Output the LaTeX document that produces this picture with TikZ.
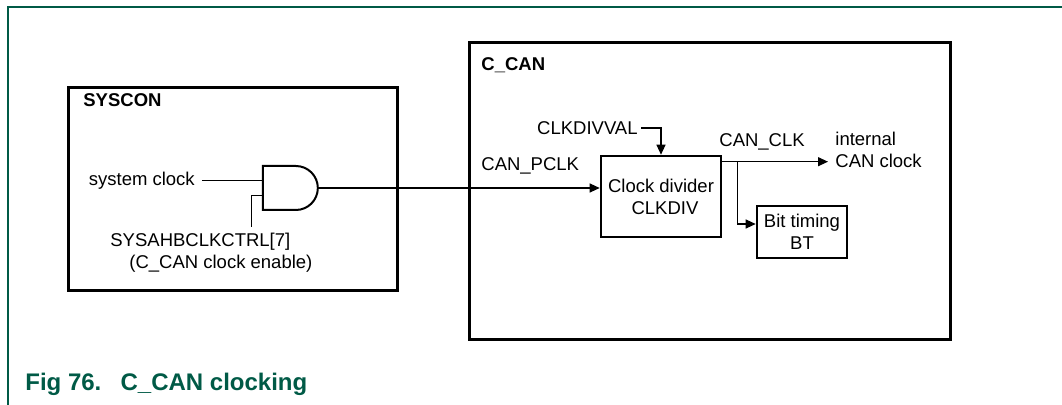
\documentclass[tikz,border=0pt]{standalone}
\usepackage{fontspec}
\setmainfont{Liberation Sans}
\usetikzlibrary{arrows.meta, positioning, shapes.gates.logic.US}
\definecolor{nxpgreen}{HTML}{005A46}
\tikzstyle{arr}=[-{Triangle[length=5pt,width=4.5pt]},line width=0.6pt]
\tikzstyle{wire}=[line width=0.6pt]
\tikzstyle{blk}=[draw,line width=1.3pt,inner sep=0pt,align=center]
\tikzstyle{lbl}=[inner sep=0pt]

\begin{document}
\begin{tikzpicture}[x=0.5pt,y=-0.5pt,every node/.style={font=\fontsize{9.25}{11}\selectfont}]
  \useasboundingbox (0,0) rectangle (1062,405);
  \draw[nxpgreen,line width=0.8pt] (8,405) -- (8,7) -- (1062,7);

  \node[blk,minimum width=164.5pt,minimum height=101.5pt,anchor=north west] (syscon) at (67,86) {};
  \node[blk,minimum width=240.5pt,minimum height=148.5pt,anchor=north west] (ccan) at (468,41) {};
  \node[lbl,anchor=base west,font=\fontsize{9.25}{11}\selectfont\bfseries] (sysconlbl) at (83,107) {SYSCON};
  \node[lbl,anchor=base west,font=\fontsize{9.25}{11}\selectfont\bfseries] (ccanlbl) at (481,71) {C\_CAN};

  \node[and gate US,draw,line width=1pt,logic gate inputs=nn,inner sep=0pt,
        minimum width=26.5pt,minimum height=22pt] (andg) at (288.5,188) {};
  \node[left=30pt of andg.input 1] (sysclk) {system clock};
  \coordinate[left=5pt of andg.input 2] (enj);
  \node[anchor=north west,inner sep=3pt,align=left] (enlbl) at (104,227)
        {SYSAHBCLKCTRL[7]\\\hspace{9.5pt}(C\_CAN clock enable)};

  \node[blk,minimum width=60pt,minimum height=40.5pt] (clkdiv) at (661,196.5) {Clock divider\\\hspace{4pt}CLKDIV};
  \node[blk,minimum width=45pt,minimum height=26pt] (bt) at (802,232) {Bit timing\\BT};
  \node[lbl,anchor=west] (pclk) at (481,166) {CAN\_PCLK};
  \node[anchor=east,inner sep=1.5pt] (divval) at (641,128) {CLKDIVVAL};
  \node[lbl,anchor=west] (canclk) at (719,142) {CAN\_CLK};
  \node[lbl,anchor=west,align=left] (intclk) at (835,150) {internal\\CAN clock};
  \coordinate (clkout) at ([yshift=-3.5pt]clkdiv.north east);
  \coordinate (br) at ([xshift=7.5pt]clkout);

  \draw[wire] (sysclk) -- (andg.input 1);
  \draw[wire] (andg.input 2) -- (enj) -- (enj |- enlbl.north);
  \draw[arr] (andg.output) -- (andg.output -| clkdiv.west);
  \draw[arr] (divval.east) -| (clkdiv.north);
  \draw[arr] (clkout) -- ([xshift=-3.5pt]clkout -| intclk.west);
  \draw[arr] (br) |- ([yshift=4pt]bt.west);

  \node[lbl,anchor=base west,text=nxpgreen,font=\fontsize{12}{14}\selectfont\bfseries] (caption) at (25,391)
        {Fig 76.\hspace{0.8em}C\_CAN clocking};
\end{tikzpicture}
\end{document}
